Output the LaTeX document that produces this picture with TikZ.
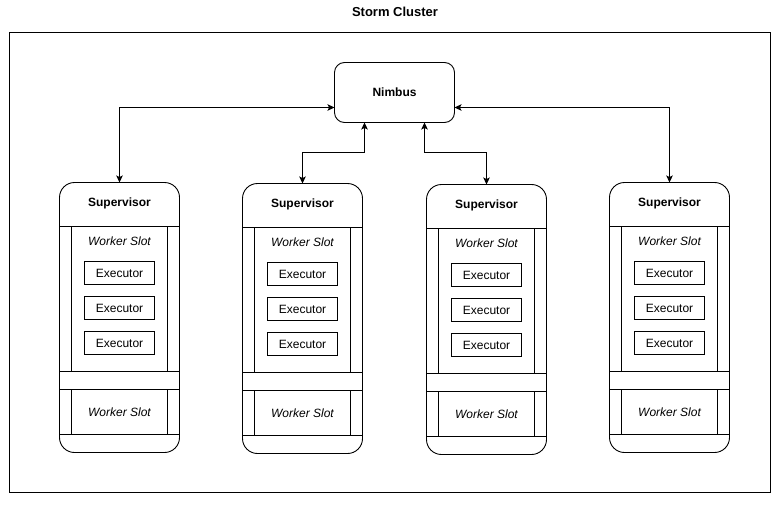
\documentclass[tikz,border=0pt]{standalone}
\usepackage{fontspec}
\setmainfont{Liberation Sans}
\usetikzlibrary{arrows.meta}
\usetikzlibrary{positioning}
\tikzset{box/.style={draw, line width=0.9pt, inner sep=0pt, outer sep=0pt,
			font=\fontsize{12}{14}\selectfont},
	supervisor/.style={box, rounded corners=15pt, minimum width=120pt,
			minimum height=270pt, anchor=north},
	slot/.style={box, minimum width=120pt, anchor=north,
			path picture={
				\draw[line width=0.9pt]
				([xshift=12pt]path picture bounding box.north west) -- ([xshift=12pt]path picture bounding box.south west)
				([xshift=-12pt]path picture bounding box.north east) -- ([xshift=-12pt]path picture bounding box.south east);
			}},
	slotlabel/.style={font=\fontsize{12}{14}\selectfont\itshape},
	suplabel/.style={font=\fontsize{12}{14}\selectfont\bfseries},
	executor/.style={box, minimum width=70pt, minimum height=23pt},
	link/.style={line width=0.9pt,
			{Stealth[length=7pt,width=6.5pt,inset=1.5pt]}-{Stealth[length=7pt,width=6.5pt,inset=1.5pt]}}}

\begin{document}
\begin{tikzpicture}[x=1pt,y=-1pt]
		\useasboundingbox (0,0) rectangle (783,508);
		
		\node[font=\fontsize{13}{15}\selectfont\bfseries] (title) at (395,12) {Storm Cluster};
		\draw[line width=1pt] (9.5,32.5) rectangle (770.5,492.5);
		
		\node[box, rounded corners=10pt, minimum width=120pt, minimum height=60pt,
			font=\fontsize{12}{14}\selectfont\bfseries] (nimbus) at (394.5,92.5) {Nimbus};
		
		\foreach \n/\x/\y in {1/119.5/182.5, 2/302.5/183.5, 3/486.5/184.5, 4/669.5/182.5} {
			\node[supervisor] (sup\n) at (\x,\y) {};
			\node[suplabel] (supText\n) at ([yshift=-20.8pt]sup\n.north) {Supervisor};
			\node[slot, minimum height=145pt] (slotUp\n) at ([yshift=-44pt]sup\n.north) {};
			\node[slotlabel] (slotText\n) at ([yshift=-14.6pt]slotUp\n.north) {Worker Slot};
			\node[executor] (execA\n) at ([yshift=-46.5pt]slotUp\n.north) {Executor};
			\node[executor, below=12pt of execA\n] (execB\n) {Executor};
			\node[executor, below=12pt of execB\n] (execC\n) {Executor};
			\node[slot, slotlabel, minimum height=45pt] (slotLow\n) at ([yshift=-18pt]slotUp\n.south) {Worker Slot};
		}
		
		\draw[link] (sup1.north) |- ([yshift=-15pt]nimbus.west);
		\draw[link] (sup4.north) |- ([yshift=-15pt]nimbus.east);
		\draw[link] ([xshift=-30pt]nimbus.south) -- ++(0,30) -| (sup2.north);
		\draw[link] ([xshift=30pt]nimbus.south) -- ++(0,30) -| (sup3.north);
\end{tikzpicture}
\end{document}
